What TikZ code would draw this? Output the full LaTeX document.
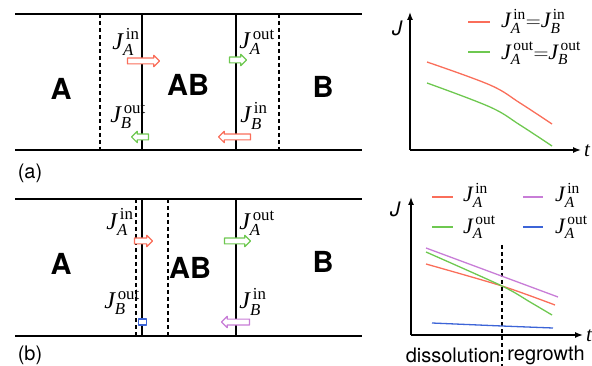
\documentclass[tikz,border=0pt]{standalone}
\usepackage{fontspec}
\usepackage{amsmath}
\setmainfont{Liberation Serif}
\setsansfont{TeX Gyre Heros}
\usetikzlibrary{arrows.meta,shapes.arrows}
\definecolor{fluxred}{RGB}{250,110,90}
\definecolor{fluxgreen}{RGB}{110,200,80}
\definecolor{fluxpurple}{RGB}{200,125,215}
\definecolor{fluxblue}{RGB}{60,100,215}
\newcommand{\jflux}[2]{$\textit{J}^{\,\textrm{#1}}_{\textit{#2}}$}
\tikzset{
  phase/.style={font=\sffamily\bfseries\fontsize{29}{31}\selectfont},
  jlab/.style={font=\fontsize{24}{26}\selectfont, inner sep=0pt},
  leg/.style={font=\fontsize{22}{24}\selectfont, inner sep=0pt, anchor=west},
  panel/.style={font=\sffamily\fontsize{20}{22}\selectfont},
  wall/.style={line width=1.2pt},
  front/.style={line width=1.2pt, dashed, dash pattern=on 4pt off 3pt},
  flow/.style={single arrow, draw=#1, fill=white, line width=1.1pt, inner sep=2.4pt,
    single arrow head extend=2.8pt, single arrow tip angle=90, minimum height=18pt},
  axis/.style={line width=1.4pt, -{Latex[length=8pt,width=6pt]}},
  curve/.style={line width=1.3pt, #1}
}
\begin{document}
\begin{tikzpicture}[x=1pt,y=-1pt, line cap=butt, line join=round]
  \useasboundingbox (0,0) rectangle (592,366);

  % ---------- panel (a) ----------
  \draw[wall] (15,14) -- (362,14);
  \draw[wall] (15,150) -- (362,150);
  \draw[front] (100,14) -- (100,150);
  \draw[front] (279,14) -- (279,150);
  \draw[wall] (142,14) -- (142,150);
  \draw[wall] (236,14) -- (236,150);
  \node[phase] (aA) at (61,89) {A};
  \node[phase] (aAB) at (188,85) {AB};
  \node[phase] (aB) at (323,87) {B};
  \node[jlab] (aJAin) at (126,42) {\jflux{in}{A}};
  \node[jlab] (aJAout) at (257,42) {\jflux{out}{A}};
  \node[jlab] (aJBout) at (128,116) {\jflux{out}{B}};
  \node[jlab] (aJBin) at (254,116) {\jflux{in}{B}};
  \node[flow=fluxred, minimum height=32pt] (aFAin) at (142,61) {};
  \node[flow=fluxgreen, minimum height=17pt] (aFAout) at (236.5,60) {};
  \node[flow=fluxgreen, minimum height=17pt, shape border rotate=180] (aFBout) at (141.5,137) {};
  \node[flow=fluxred, minimum height=32pt, shape border rotate=180] (aFBin) at (236,137) {};
  \node[panel] (alab) at (30,173) {(a)};

  % plot (a)
  \coordinate (ao) at (410,150);
  \draw[axis] (ao) -- (410,12);
  \draw[axis] (ao) -- (581,150);
  \node[font=\sffamily\itshape\fontsize{20}{22}\selectfont] (aJ) at (397,28) {J};
  \node[font=\itshape\fontsize{21}{23}\selectfont] (at) at (587,151) {t};
  \draw[curve=fluxred] plot[smooth, tension=0.6] coordinates {(427,62) (490,85) (520,103) (552,124)};
  \draw[curve=fluxgreen] plot[smooth, tension=0.6] coordinates {(427,83) (490,107) (520,125) (552,146)};
  \draw[curve=fluxred] (468,22) -- (490,22);
  \draw[curve=fluxgreen] (468,52) -- (490,52);
  \node[leg] (aleg1) at (501,21) {\jflux{in}{A}${=}$\jflux{in}{B}};
  \node[leg] (aleg2) at (501,53) {\jflux{out}{A}${=}$\jflux{out}{B}};

  % ---------- panel (b) ----------
  \draw[wall] (15,199) -- (362,199);
  \draw[wall] (15,336) -- (362,336);
  \draw[front] (136,199) -- (136,336);
  \draw[front] (168,199) -- (168,336);
  \draw[wall] (142,199) -- (142,336);
  \draw[wall] (236,199) -- (236,336);
  \node[phase] (bA) at (61,264) {A};
  \node[phase] (bAB) at (190,268) {AB};
  \node[phase] (bB) at (323,262) {B};
  \node[jlab] (bJAin) at (120,222) {\jflux{in}{A}};
  \node[jlab] (bJAout) at (257,223) {\jflux{out}{A}};
  \node[jlab] (bJBout) at (122,302) {\jflux{out}{B}};
  \node[jlab] (bJBin) at (253,302) {\jflux{in}{B}};
  \node[flow=fluxred, minimum height=18pt] (bFAin) at (142,241) {};
  \node[flow=fluxgreen, minimum height=26pt] (bFAout) at (236,241) {};
  \node[draw=fluxblue, fill=white, line width=1.1pt, minimum width=8pt, minimum height=6pt, inner sep=0pt] (bFBout) at (142.5,322) {};
  \node[flow=fluxpurple, minimum height=28pt, shape border rotate=180] (bFBin) at (237,322) {};
  \node[panel] (blab) at (30,355) {(b)};

  % plot (b)
  \coordinate (bo) at (411,335);
  \draw[axis] (bo) -- (411,197);
  \draw[axis] (bo) -- (583,335);
  \node[font=\sffamily\itshape\fontsize{20}{22}\selectfont] (bJ) at (395,209) {J};
  \node[font=\itshape\fontsize{21}{23}\selectfont] (bt) at (589,336) {t};
  \draw[front] (502,245) -- (502,366);
  \draw[curve=fluxpurple] (426,248) -- (558,297);
  \draw[curve=fluxred] plot[smooth, tension=0.5] coordinates {(426,264) (502,286) (555,305)};
  \draw[curve=fluxgreen] plot[smooth, tension=0.5] coordinates {(426,252) (502,286) (530,302) (552,315)};
  \draw[curve=fluxblue] plot[smooth, tension=0.5] coordinates {(432,323) (502,326) (553,328)};
  \draw[curve=fluxred] (432,197) -- (453,197);
  \draw[curve=fluxpurple] (523,197) -- (543,197);
  \draw[curve=fluxgreen] (432,227) -- (453,227);
  \draw[curve=fluxblue] (523,227) -- (543,227);
  \node[leg] (bleg1) at (463,195) {\jflux{in}{A}};
  \node[leg] (bleg2) at (555,195) {\jflux{in}{A}};
  \node[leg] (bleg3) at (463,227) {\jflux{out}{A}};
  \node[leg] (bleg4) at (555,227) {\jflux{out}{A}};
  \node[panel] (diss) at (453,355) {dissolution};
  \node[panel] (regr) at (546,355) {regrowth};
\end{tikzpicture}
\end{document}
